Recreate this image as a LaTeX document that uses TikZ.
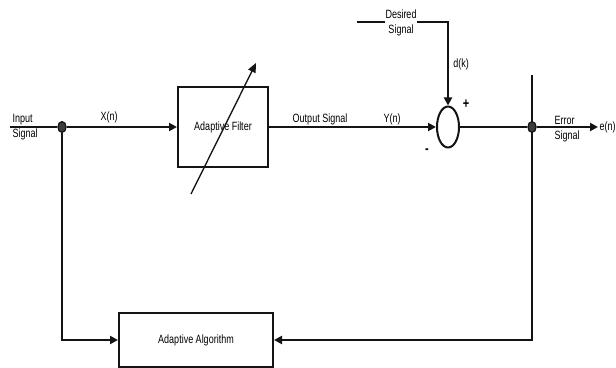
\documentclass[tikz,border=0pt]{standalone}
\usepackage{fontspec}
\setmainfont{Liberation Sans}[FakeStretch=0.75]
\usepackage{tikz}
\usetikzlibrary{arrows.meta, positioning, shapes.geometric}
\definecolor{ink}{RGB}{20,20,20}
\definecolor{knot}{RGB}{60,60,60}

\begin{document}
\begin{tikzpicture}[
  x=0.75pt, y=-0.75pt,
  font=\fontsize{9}{10}\selectfont,
  block/.style={draw=ink, line width=1.5pt, fill=white, inner sep=0},
  summer/.style={ellipse, draw=ink, line width=1.5pt, fill=white, minimum width=16.5pt, minimum height=30.75pt, inner sep=0},
  dot/.style={ellipse, draw=ink, fill=knot, line width=0.8pt, minimum width=6pt, minimum height=8pt, inner sep=0},
  wire/.style={line width=1.5pt, ink},
  arr/.style={-{Triangle[length=6pt, width=6pt]}, line width=1.5pt, ink},
  tune/.style={-{Triangle[length=7pt, width=6pt]}, line width=1pt, ink},
  lbl/.style={inner sep=1pt, align=center},
]
\useasboundingbox (0,0) rectangle (616,367);

% Blocks
\node[block, minimum width=67.5pt, minimum height=60pt] (filt) at (223,127) {Adaptive Filter};
\node[block, minimum width=115.5pt, minimum height=40pt] (alg) at (196,340) {Adaptive Algorithm};
\node[summer] (sum) at (448,127) {};

% Junctions and free ends
\node[dot] (j1) at (62,127) {};
\node[dot] (j2) at (532,127) {};
\coordinate (in) at (10,127);
\coordinate (dsrc) at (357,22);
\coordinate (ctop) at (532,75);
\coordinate (t1) at (191,194);
\coordinate (t2) at (256,63);
\node[anchor=west, inner sep=1pt] (en) at (598,127) {e(n)};

% Forward path
\draw[wire] (in) -- (j1);
\draw[arr] (j1) -- (filt);
\draw[arr] (filt) -- (sum);
\draw[arr] (dsrc) -| (sum);
\draw[wire] (sum) -- (j2);
\draw[arr] (j2) -- (en);

% Feedback path
\draw[wire] (ctop) -- (j2);
\draw[arr] (j2) |- (alg);
\draw[arr] (j1) |- (alg);

% Adjustable filter arrow
\draw[tune] (t1) -- (t2);

% Junction dots on top
\node[dot] at (j1) {};
\node[dot] at (j2) {};

% Labels
\node[lbl, align=left, anchor=west] (insig) at (11,127) {Input\\[1pt]Signal};
\node[lbl] (xn) at (109,117) {X(n)};
\node[lbl] (osig) at (320,119) {Output Signal};
\node[lbl] (yn) at (392,119) {Y(n)};
\node[lbl, fill=white, inner sep=0.5pt] (dsig) at (401,23) {Desired\\[1pt]Signal};
\node[lbl] (dk) at (461,64) {d(k)};
\node[lbl, font=\bfseries\fontsize{11}{11}\selectfont] (plus) at (466,104) {+};
\node[lbl, font=\bfseries\fontsize{11}{11}\selectfont] (minus) at (427,151) {-};
\node[lbl, align=left, anchor=west] (esig) at (553,129) {Error\\[1pt]Signal};

\end{tikzpicture}
\end{document}
